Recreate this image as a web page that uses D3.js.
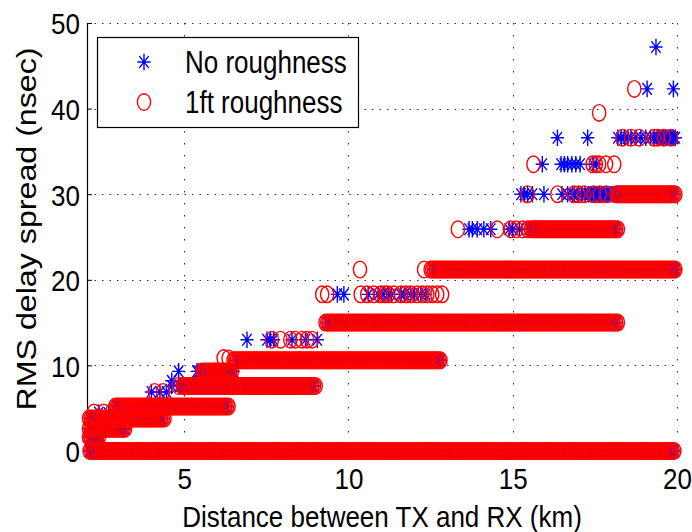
<!DOCTYPE html>
<html>
<head>
<meta charset="utf-8">
<script src="https://cdn.jsdelivr.net/npm/d3@7"></script>
<style>
  body { margin: 0; background: #fff; }
  svg { display: block; }
  text { font-family: "Liberation Sans", Arial, Helvetica, sans-serif; fill: #000; }
</style>
</head>
<body>
<svg id="chart" width="692" height="532"></svg>
<script>
// Axis ticks
const xTicks = [5, 10, 15, 20];
const yTicks = [0, 10, 20, 30, 40, 50];
const seriesNames = ["No roughness", "1ft roughness"];

// Dense runs of samples at one delay level: [delay nsec, from km, to km]
const noRoughRuns = [
  [0, 2.12, 19.93], [1.6, 2.1, 2.45], [2.6, 2.1, 3.2], [3.8, 2.15, 4.35],
  [5.2, 2.95, 6.3], [7.6, 4.85, 8.95], [9.3, 5.45, 6.5], [10.6, 6.6, 12.8],
  [15.0, 9.35, 18.15], [21.2, 12.6, 19.95], [25.9, 15.5, 18.15], [30.0, 17.3, 19.9],
  [36.6, 19.4, 19.95]
];
const roughRuns = [
  [0, 2.12, 19.93], [1.6, 2.1, 2.4], [2.6, 2.1, 3.2], [3.8, 2.1, 4.4],
  [5.2, 2.9, 6.35], [7.6, 4.95, 9.0], [9.3, 5.55, 6.45], [10.6, 6.5, 12.8],
  [15.0, 9.3, 18.2], [21.2, 12.5, 19.95], [25.9, 15.55, 18.2], [30.0, 18.15, 19.95]
];
// Sample spacing along the distance axis inside a run (km)
const runSpacingKm = 0.05;

// Individual samples: [distance km, delay nsec]
const noRoughPoints = [
  [19.36, 47.2], [19.09, 42.3], [19.89, 42.3],
  [16.36, 36.6], [17.28, 36.6], [18.2, 36.6], [18.3, 36.6], [18.4, 36.6], [18.5, 36.6],
  [18.6, 36.6], [18.75, 36.6], [18.9, 36.6], [19.05, 36.6], [19.2, 36.6], [19.3, 36.6],
  [15.9, 33.5], [16.47, 33.5], [16.57, 33.5], [16.67, 33.5], [16.8, 33.5], [16.92, 33.5], [17.05, 33.5],
  [17.45, 33.5], [17.55, 33.5],
  [15.25, 30.0], [15.35, 30.0], [15.45, 30.0], [15.6, 30.0], [15.95, 30.0], [16.5, 30.0], [16.67, 30.0],
  [16.82, 30.0], [16.87, 30.0], [17.0, 30.0], [17.1, 30.0], [17.2, 30.0],
  [13.67, 25.9], [13.77, 25.9], [13.92, 25.9], [14.12, 25.9], [14.33, 25.9], [14.89, 25.9], [15.0, 25.9], [15.2, 25.9],
  [9.66, 18.3], [9.86, 18.3], [10.6, 18.3], [10.9, 18.3], [11.05, 18.3], [11.2, 18.3], [11.3, 18.3],
  [11.59, 18.3], [11.7, 18.3], [11.89, 18.3], [12.0, 18.3], [12.2, 18.3], [12.35, 18.3],
  [6.91, 13.0], [7.52, 13.0], [7.62, 13.0], [7.72, 13.0], [8.28, 13.0], [8.69, 13.0], [9.05, 13.0],
  [4.83, 9.3], [5.39, 9.3], [4.62, 8.2], [4.62, 7.6],
  [4.0, 6.9], [4.26, 6.9], [4.46, 6.9],
  [2.4, 4.5], [2.7, 4.4], [3.0, 4.6], [3.3, 4.7], [3.5, 4.9]
];
const roughPoints = [
  [18.70, 42.3], [17.63, 39.5],
  [18.34, 36.6], [18.6, 36.6], [18.85, 36.6], [19.3, 36.6], [19.41, 36.6], [19.6, 36.6], [19.82, 36.6],
  [15.63, 33.5], [17.43, 33.5], [17.53, 33.5], [17.63, 33.5], [17.84, 33.5], [18.09, 33.5],
  [15.45, 30.0], [16.36, 30.0], [16.86, 30.0], [17.0, 30.0], [17.17, 30.0], [17.47, 30.0], [17.65, 30.0], [17.85, 30.0],
  [13.33, 25.9], [14.53, 25.9], [14.94, 25.9], [15.1, 25.9], [15.3, 25.9], [15.45, 25.9],
  [10.35, 21.2], [12.3, 21.2],
  [9.2, 18.3], [9.35, 18.3], [10.37, 18.3], [10.57, 18.3], [10.77, 18.3], [10.98, 18.3], [11.1, 18.3],
  [11.2, 18.3], [11.38, 18.3], [11.6, 18.3], [11.75, 18.3], [11.9, 18.3], [12.09, 18.3], [12.25, 18.3],
  [12.4, 18.3], [12.55, 18.3], [12.7, 18.3], [12.85, 18.3],
  [7.67, 13.0], [7.93, 13.0], [8.23, 13.0], [8.38, 13.0], [8.59, 13.0], [8.74, 13.0], [8.89, 13.0],
  [6.2, 10.85], [6.35, 10.8],
  [4.83, 7.6], [4.1, 6.9], [4.35, 6.9],
  [2.25, 4.5], [2.55, 4.5], [2.8, 4.5], [3.1, 4.6], [3.35, 4.7]
];

// Expand runs into samples and append the individual ones
function samples(runs, points) {
  const out = [];
  runs.forEach(([level, from, to]) => {
    d3.range(from, to + 1e-9, runSpacingKm).forEach(km => out.push([km, level]));
  });
  points.forEach(p => out.push(p));
  return out;
}
const noRoughData = samples(noRoughRuns, noRoughPoints);
const roughData = samples(roughRuns, roughPoints);

const svg = d3.select("#chart");
const x = d3.scaleLinear().domain([2.04, 20]).range([87, 677]);
const y = d3.scaleLinear().domain([0, 50]).range([451, 23]);

const STRETCH = 1.17;
const RX = 6.6, RY = 8.3;
const starPath = `M${-RX},0H${RX}M0,${-RY}V${RY}` +
  `M${-RX * 0.707},${-RY * 0.707}L${RX * 0.707},${RY * 0.707}` +
  `M${-RX * 0.707},${RY * 0.707}L${RX * 0.707},${-RY * 0.707}`;

// Dotted grid
const grid = svg.append("g").attr("stroke", "#333").attr("stroke-width", 1.1);
grid.selectAll("line.h").data(yTicks.filter(v => v > 0)).join("line")
  .attr("x1", x(2.04)).attr("x2", x(20))
  .attr("y1", d => Math.round(y(d)) + 0.5).attr("y2", d => Math.round(y(d)) + 0.5)
  .attr("stroke-dasharray", "1.5,6");
grid.selectAll("line.v").data(xTicks).join("line")
  .attr("x1", d => Math.round(x(d)) + 0.5).attr("x2", d => Math.round(x(d)) + 0.5)
  .attr("y1", y(50)).attr("y2", y(0))
  .attr("stroke-dasharray", "1.5,10.5");

// Axes with inward ticks
const yAxis = svg.append("g").attr("transform", `translate(${x(2.04)},0)`)
  .call(d3.axisLeft(y).tickValues(yTicks).tickSizeInner(-5).tickSizeOuter(0));
const xAxis = svg.append("g").attr("transform", `translate(0,${y(0)})`)
  .call(d3.axisBottom(x).tickValues(xTicks).tickSizeInner(-5).tickSizeOuter(0));
[yAxis, xAxis].forEach(a => {
  a.select(".domain").attr("stroke", "#000").attr("stroke-width", 1.2);
  a.selectAll(".tick line").attr("stroke", "#000");
  a.selectAll(".tick text").attr("font-size", 26).attr("font-family", null)
    .attr("x", 0).attr("y", 0).attr("dy", null);
});
yAxis.selectAll(".tick text").attr("text-anchor", "end")
  .attr("transform", `translate(-7,10.8) scale(1,${STRETCH})`);
xAxis.selectAll(".tick text").attr("text-anchor", "middle")
  .attr("transform", `translate(0,38) scale(1,${STRETCH})`);

// Markers: stars first, circles on top
const plot = svg.append("g");
plot.append("g").attr("fill", "none").attr("stroke", "#0000ff").attr("stroke-width", 1.4)
  .selectAll("path").data(noRoughData).join("path")
  .attr("transform", d => `translate(${x(d[0])},${y(d[1])})`)
  .attr("d", starPath);
plot.append("g").attr("fill", "none").attr("stroke", "#ff0000").attr("stroke-width", 1.4)
  .selectAll("ellipse").data(roughData).join("ellipse")
  .attr("cx", d => x(d[0])).attr("cy", d => y(d[1]))
  .attr("rx", RX).attr("ry", RY);

// Axis titles
svg.append("text").attr("text-anchor", "middle").attr("font-size", 26)
  .attr("transform", `translate(382,527) scale(1,${STRETCH})`)
  .text("Distance between TX and RX (km)");
svg.append("text").attr("text-anchor", "middle").attr("font-size", 28)
  .attr("transform", `translate(36,229) rotate(-90) scale(1.15,1)`)
  .text("RMS delay spread (nsec)");

// Legend
const legend = svg.append("g");
legend.append("rect").attr("x", 97.5).attr("y", 37.5).attr("width", 261).attr("height", 90)
  .attr("fill", "#fff").attr("stroke", "#000").attr("stroke-width", 1.2);
legend.append("path").attr("transform", "translate(144,62)").attr("d", starPath)
  .attr("fill", "none").attr("stroke", "#0000ff").attr("stroke-width", 1.4);
legend.append("ellipse").attr("cx", 144).attr("cy", 102).attr("rx", RX).attr("ry", RY)
  .attr("fill", "none").attr("stroke", "#ff0000").attr("stroke-width", 1.4);
legend.selectAll("text").data(seriesNames).join("text")
  .attr("font-size", 26)
  .attr("transform", (d, i) => `translate(185,${73 + i * 40}) scale(1,1.2)`)
  .text(d => d);
</script>
</body>
</html>
